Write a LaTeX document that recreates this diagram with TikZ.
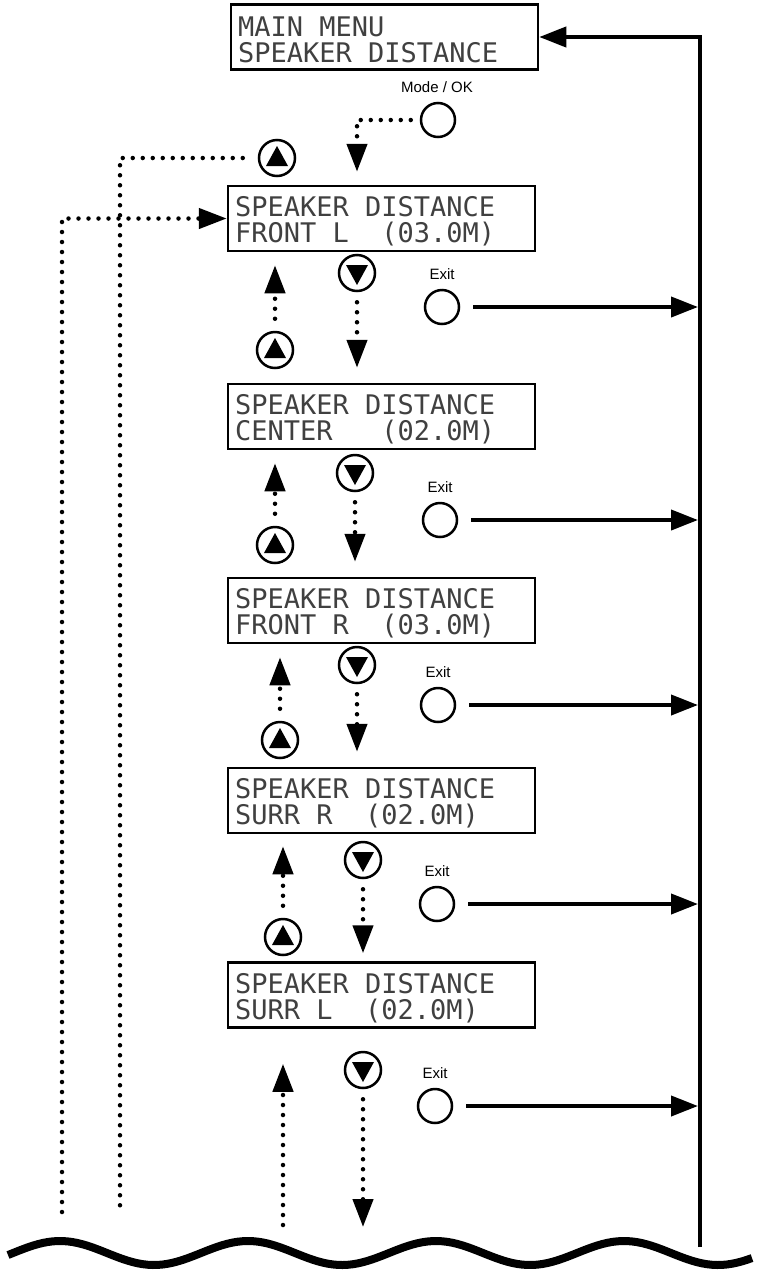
\documentclass[tikz,border=0pt]{standalone}
\usepackage{fontspec}
\setmainfont{Liberation Sans}
\newfontfamily\lcdfont{DejaVu Sans Mono}
\usetikzlibrary{arrows.meta,positioning,shapes.geometric,calc}
\tikzset{
  lcdbox/.style={draw, line width=2.5pt, minimum width=307pt, minimum height=65pt, text width=293pt, align=flush left, inner xsep=7pt, inner ysep=0pt, font=\lcdfont\fontsize{27}{26}\selectfont, text=black!75, execute at begin node={\rule{0pt}{26pt}}},
  keylabel/.style={font=\fontsize{15}{18}\selectfont, inner sep=0pt},
  btn/.style={circle, draw, line width=2.5pt, minimum size=34pt, inner sep=0pt},
  upbtn/.style={btn, minimum size=36pt, path picture={\fill ($(path picture bounding box.center)+(-11pt,-8pt)$) -- ++(22pt,0pt) -- ++(-11pt,20pt) -- cycle;}},
  downbtn/.style={btn, minimum size=36pt, path picture={\fill ($(path picture bounding box.center)+(-11pt,8pt)$) -- ++(22pt,0pt) -- ++(-11pt,-20pt) -- cycle;}},
  dotline/.style={line width=4.5pt, line cap=round, dash pattern=on 0pt off 10pt},
  dotarrow/.style={dotline, -{Triangle[length=28pt,width=20pt]}},
  flow/.style={line width=4pt, -{Triangle[length=27pt,width=20pt]}}
}
\begin{document}
\begin{tikzpicture}[x=1pt, y=-1pt]
  \useasboundingbox (0,0) rectangle (756,1275);

  % screens
  \node[lcdbox] (mainmenu) at (384.5,37) {MAIN MENU\\SPEAKER DISTANCE};
  \node[lcdbox] (frontl) at (381.5,218.5) {SPEAKER DISTANCE\\FRONT L\ \ (03.0M)};
  \node[lcdbox] (center) at (381.5,416.5) {SPEAKER DISTANCE\\CENTER\ \ \ (02.0M)};
  \node[lcdbox] (frontr) at (381.5,610.5) {SPEAKER DISTANCE\\FRONT R\ \ (03.0M)};
  \node[lcdbox] (surrr) at (381.5,800.5) {SPEAKER DISTANCE\\SURR R\ \ (02.0M)};
  \node[lcdbox] (surrl) at (381.5,995) {SPEAKER DISTANCE\\SURR L\ \ (02.0M)};

  % keys
  \node[keylabel] (modelbl) at (437,87) {Mode / OK};
  \node[btn] (modebtn) at (438,120) {};
  \node[upbtn] (topup) at (277,158) {};

  \node[downbtn] (d1) at (357,273) {};
  \node[keylabel] (exitlbl1) at (442,274) {Exit};
  \node[btn] (exit1) at (442,307) {};
  \node[upbtn] (u1) at (275,350) {};

  \node[downbtn] (d2) at (355,473) {};
  \node[keylabel] (exitlbl2) at (440,487) {Exit};
  \node[btn] (exit2) at (440,520) {};
  \node[upbtn] (u2) at (275,545) {};

  \node[downbtn] (d3) at (357,665) {};
  \node[keylabel] (exitlbl3) at (438,672) {Exit};
  \node[btn] (exit3) at (438,705) {};
  \node[upbtn] (u3) at (280,740) {};

  \node[downbtn] (d4) at (363,860) {};
  \node[keylabel] (exitlbl4) at (437,871) {Exit};
  \node[btn] (exit4) at (437,904) {};
  \node[upbtn] (u4) at (283,937) {};

  \node[downbtn] (d5) at (363,1070) {};
  \node[keylabel] (exitlbl5) at (435,1073) {Exit};
  \node[btn] (exit5) at (435,1106) {};

  % free ends near the cut
  \coordinate (railend) at (700,1247);
  \coordinate (wrapa) at (120,1212);
  \coordinate (wrapb) at (62,1212);
  \coordinate (upend) at (283,1225);
  \coordinate (downend) at (363,1227);

  % return rail
  \draw[flow] (railend) |- (mainmenu);
  \draw[flow, shorten <=13pt, shorten >=2pt] (exit1) -- (exit1 -| railend);
  \draw[flow, shorten <=13pt, shorten >=2pt] (exit2) -- (exit2 -| railend);
  \draw[flow, shorten <=13pt, shorten >=2pt] (exit3) -- (exit3 -| railend);
  \draw[flow, shorten <=13pt, shorten >=2pt] (exit4) -- (exit4 -| railend);
  \draw[flow, shorten <=13pt, shorten >=2pt] (exit5) -- (exit5 -| railend);

  % mode / ok and wrap-around
  \draw[dotarrow, shorten <=9pt, shorten >=13pt] (modebtn) -| (d1 |- frontl.north);
  \draw[dotline, shorten <=15pt] (topup) -| (wrapa);
  \draw[dotarrow] (wrapb) |- (frontl);

  % down
  \draw[dotarrow, shorten <=10pt, shorten >=15pt] (d1) -- (d1 |- center.north);
  \draw[dotarrow, shorten <=10pt, shorten >=15pt] (d2) -- (d2 |- frontr.north);
  \draw[dotarrow, shorten <=10pt, shorten >=15pt] (d3) -- (d3 |- surrr.north);
  \draw[dotarrow, shorten <=10pt, shorten >=8pt] (d4) -- (d4 |- surrl.north);
  \draw[dotarrow, shorten <=10pt] (d5) -- (downend);

  % up
  \draw[dotarrow, shorten <=12pt, shorten >=13pt] (u1) -- (u1 |- frontl.south);
  \draw[dotarrow, shorten <=12pt, shorten >=13pt] (u2) -- (u2 |- center.south);
  \draw[dotarrow, shorten <=12pt, shorten >=13pt] (u3) -- (u3 |- frontr.south);
  \draw[dotarrow, shorten <=12pt, shorten >=12pt] (u4) -- (u4 |- surrr.south);
  \draw[dotarrow, shorten >=35pt] (upend) -- (upend |- surrl.south);

  % cut
  \draw[line width=8pt] plot[domain=8:752, samples=150] (\x, {1253 - 12*cos((\x-60)*1.91489)});
\end{tikzpicture}
\end{document}
